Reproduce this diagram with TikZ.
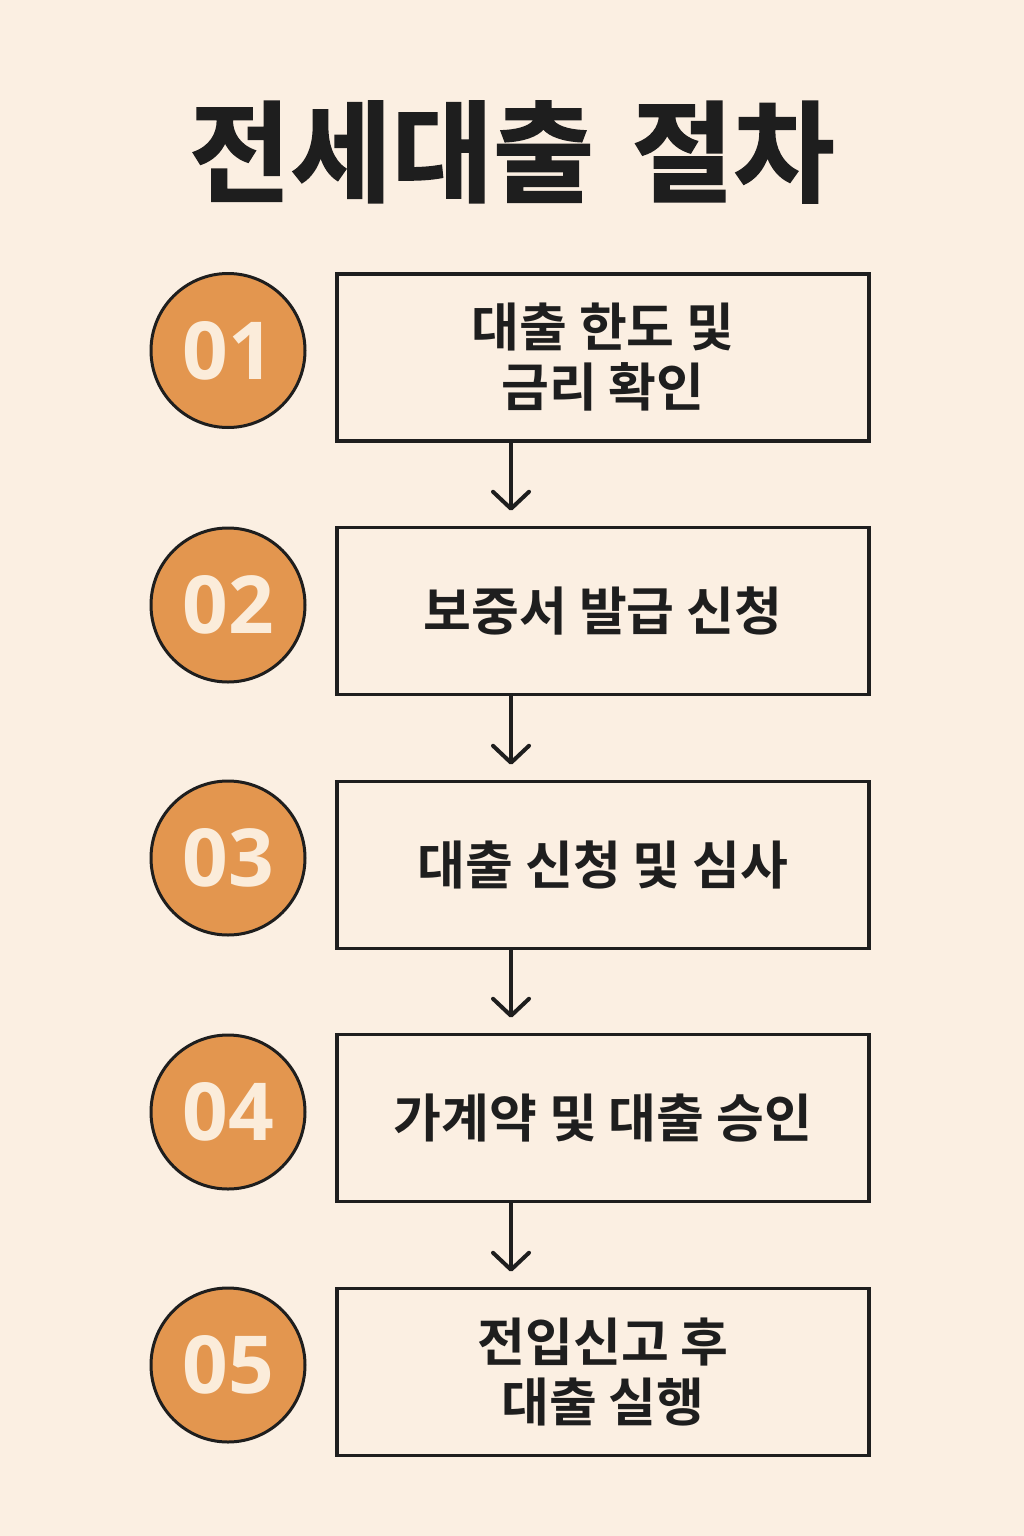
\documentclass[tikz,border=0pt]{standalone}
\usepackage{fontspec}
\newfontfamily\kr{Noto Sans CJK KR}[BoldFont=* Bold]
\newfontfamily\krheavy{Noto Sans CJK KR Bold}[FakeBold=1.5]
\newfontfamily\numfont{Open Sans}
\usetikzlibrary{arrows.meta}
\definecolor{bgc}{HTML}{FBEFE2}
\definecolor{orangec}{HTML}{E3964F}
\definecolor{creamc}{HTML}{FBECDA}
\definecolor{inkc}{HTML}{1E1E1E}
\tikzset{
  stepcircle/.style={circle, draw=inkc, line width=3pt, fill=orangec, minimum size=154pt, inner sep=0pt,
    text=creamc, font=\numfont\bfseries\fontsize{80}{80}\selectfont},
  stepbox/.style={rectangle, draw=inkc, line width=3.5pt, minimum width=532pt, minimum height=167pt,
    inner sep=0pt, align=center, text=inkc, font=\kr\bfseries\fontsize{52}{60}\selectfont},
  arr/.style={draw=inkc, line width=4pt, line cap=round,
    -{Straight Barb[length=17pt,width=36pt,line width=4pt,line cap=round,round]}}
}
\begin{document}
\begin{tikzpicture}[x=1pt,y=-1pt]
\fill[bgc] (0,0) rectangle (1024,1536);
\useasboundingbox (0,0) rectangle (1024,1536);
\node[text=inkc, font=\krheavy\fontsize{110}{116}\selectfont] (title) at (512,152) {전세대출\hspace{38pt}절차};

\node[stepcircle] (c1) at (228,350.5) {01};
\node[stepcircle] (c2) at (228,605) {02};
\node[stepcircle] (c3) at (228,858) {03};
\node[stepcircle] (c4) at (228,1112) {04};
\node[stepcircle] (c5) at (228,1365) {05};

\node[stepbox] (b1) at (603,357.5) {대출 한도 및\\금리 확인};
\node[stepbox] (b2) at (603,611) {보중서 발급 신청};
\node[stepbox] (b3) at (603,865) {대출 신청 및 심사};
\node[stepbox] (b4) at (603,1118) {가계약 및 대출 승인};
\node[stepbox] (b5) at (603,1372) {전입신고 후\\대출 실행};

\draw[arr] ([xshift=-92pt]b1.south) -- ([xshift=-92pt,yshift=15pt]b2.north);
\draw[arr] ([xshift=-92pt]b2.south) -- ([xshift=-92pt,yshift=15pt]b3.north);
\draw[arr] ([xshift=-92pt]b3.south) -- ([xshift=-92pt,yshift=15pt]b4.north);
\draw[arr] ([xshift=-92pt]b4.south) -- ([xshift=-92pt,yshift=15pt]b5.north);
\end{tikzpicture}
\end{document}
